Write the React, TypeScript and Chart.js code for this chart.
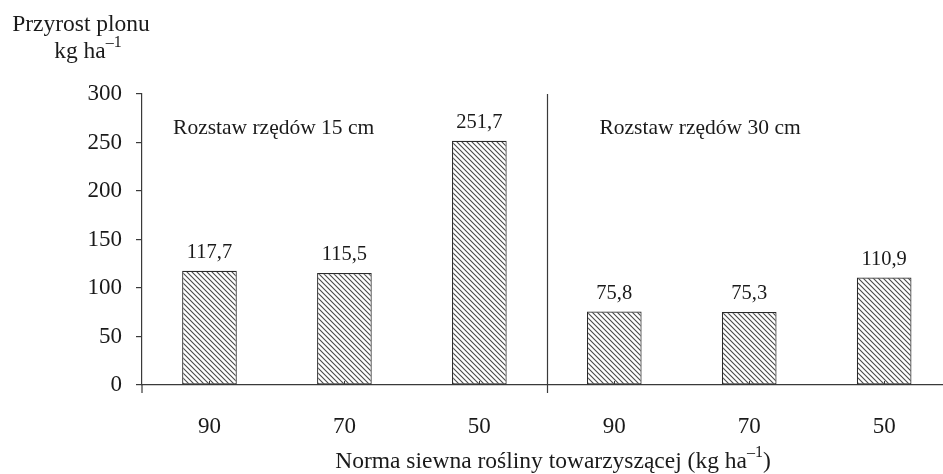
import React, { useEffect, useRef } from "react";
import { Chart, registerables } from "chart.js";

Chart.register(...registerables);

const categories = ["90", "70", "50", "90", "70", "50"];
const values = [117.7, 115.5, 251.7, 75.8, 75.3, 110.9];
const groupLabels = ["Rozstaw rzędów 15 cm", "Rozstaw rzędów 30 cm"];
const yTitleLines = ["Przyrost plonu", "kg ha"];
const unitSup = "–1";
const xTitle = "Norma siewna rośliny towarzyszącej (kg ha";
const yMin = 0;
const yMax = 300;
const yStep = 50;

const FONT = "'Liberation Serif', 'Times New Roman', serif";
const TEXT = "#1a1a1a";
const LINE = "#3a3a3a";

function makePattern(): CanvasPattern | string {
  const c = document.createElement("canvas");
  const s = 5;
  c.width = s;
  c.height = s;
  const g = c.getContext("2d");
  if (!g) return "#999";
  g.fillStyle = "#ffffff";
  g.fillRect(0, 0, s, s);
  g.strokeStyle = "#4a4a4a";
  g.lineWidth = 1.1;
  g.beginPath();
  g.moveTo(-1, -1);
  g.lineTo(s + 1, s + 1);
  g.moveTo(-1, s - 1);
  g.lineTo(1, s + 1);
  g.moveTo(s - 1, -1);
  g.lineTo(s + 1, 1);
  g.stroke();
  const p = g.createPattern(c, "repeat");
  return p || "#999";
}

function drawWithSup(
  ctx: CanvasRenderingContext2D,
  main: string,
  sup: string,
  tail: string,
  cx: number,
  cy: number,
  size: number
) {
  const supSize = Math.round(size * 0.68);
  ctx.font = `${size}px ${FONT}`;
  const w1 = ctx.measureText(main).width;
  const w3 = ctx.measureText(tail).width;
  ctx.font = `${supSize}px ${FONT}`;
  const w2 = ctx.measureText(sup).width;
  const total = w1 + w2 + w3;
  let x = cx - total / 2;
  ctx.textAlign = "left";
  ctx.textBaseline = "middle";
  ctx.font = `${size}px ${FONT}`;
  ctx.fillText(main, x, cy);
  x += w1;
  ctx.font = `${supSize}px ${FONT}`;
  ctx.fillText(sup, x, cy - size * 0.38);
  x += w2;
  ctx.font = `${size}px ${FONT}`;
  if (tail) ctx.fillText(tail, x, cy);
}

const decorPlugin = {
  id: "decor",
  afterDraw(chart: any) {
    const ctx: CanvasRenderingContext2D = chart.ctx;
    const area = chart.chartArea;
    const xs = chart.scales.x;
    const ys = chart.scales.y;
    ctx.save();
    ctx.strokeStyle = LINE;
    ctx.lineWidth = 1.2;
    ctx.beginPath();
    ctx.moveTo(area.left, area.bottom);
    ctx.lineTo(area.left, area.bottom + 8);
    const dx = Math.round(xs.getPixelForValue(2.5)) + 0.5;
    ctx.moveTo(dx, area.top);
    ctx.lineTo(dx, area.bottom + 8);
    ctx.stroke();
    const meta = chart.getDatasetMeta(0);
    ctx.lineWidth = 1;
    ctx.beginPath();
    meta.data.forEach((bar: any) => {
      ctx.moveTo(Math.round(bar.x) + 0.5, area.bottom);
      ctx.lineTo(Math.round(bar.x) + 0.5, area.bottom - 4);
    });
    ctx.stroke();
    ctx.fillStyle = TEXT;
    ctx.font = `20.5px ${FONT}`;
    ctx.textAlign = "center";
    ctx.textBaseline = "middle";
    meta.data.forEach((bar: any, i: number) => {
      const txt = values[i].toFixed(1).replace(".", ",");
      ctx.fillText(txt, bar.x, bar.y - 18);
    });
    ctx.textAlign = "left";
    ctx.font = `21.5px ${FONT}`;
    const gy = ys.getPixelForValue(265);
    ctx.fillText(groupLabels[0], xs.getPixelForValue(-0.27), gy);
    ctx.fillText(groupLabels[1], xs.getPixelForValue(2.89), gy);
    ctx.textAlign = "center";
    ctx.font = `23.5px ${FONT}`;
    ctx.fillText(yTitleLines[0], 81, 25);
    drawWithSup(ctx, yTitleLines[1], unitSup, "", 88, 52, 23.5);
    drawWithSup(ctx, xTitle, unitSup, ")", 553, 462, 23.5);
    ctx.restore();
  },
};

export default function App() {
  const ref = useRef<HTMLCanvasElement | null>(null);
  useEffect(() => {
    if (!ref.current) return;
    const pattern = makePattern();
    const chart = new Chart(ref.current, {
      type: "bar",
      data: {
        datasets: [
          {
            data: values.map((v, i) => ({ x: i, y: v })),
            backgroundColor: pattern as any,
            borderColor: "#2a2a2a",
            borderWidth: 1.2,
            borderSkipped: false,
            barPercentage: 0.405,
            categoryPercentage: 1,
          },
        ],
      },
      options: {
        animation: false,
        responsive: true,
        maintainAspectRatio: false,
        layout: { padding: { top: 94, left: 0, right: 0, bottom: 0 } },
        plugins: {
          legend: { display: false },
          tooltip: { enabled: false },
        },
        scales: {
          x: {
            type: "linear",
            offset: false,
            min: -0.5,
            max: 5.436,
            afterBuildTicks: (scale: any) => {
              scale.ticks = categories.map((_, i) => ({ value: i }));
            },
            afterFit: (scale: any) => {
              scale.height = 89;
            },
            grid: { display: false, offset: false },
            border: { display: true, color: LINE, width: 1.2 },
            ticks: {
              autoSkip: false,
              maxRotation: 0,
              padding: 20,
              color: TEXT,
              font: { family: FONT, size: 23 },
              callback: (v: any) => categories[v as number] ?? "",
            },
          },
          y: {
            min: yMin,
            max: yMax,
            afterFit: (scale: any) => {
              scale.width = 142;
            },
            grid: {
              display: true,
              drawOnChartArea: false,
              drawTicks: true,
              tickLength: 6,
              color: LINE,
              lineWidth: 1.2,
            },
            border: { display: true, color: LINE, width: 1.2 },
            ticks: {
              stepSize: yStep,
              padding: 14,
              color: TEXT,
              font: { family: FONT, size: 23 },
            },
          },
        },
      },
      plugins: [decorPlugin],
    });
    return () => chart.destroy();
  }, []);
  return (
    <div style={{ position: "fixed", left: 0, top: 0, width: 943, height: 474, background: "#fff" }}>
      <canvas ref={ref} />
    </div>
  );
}
